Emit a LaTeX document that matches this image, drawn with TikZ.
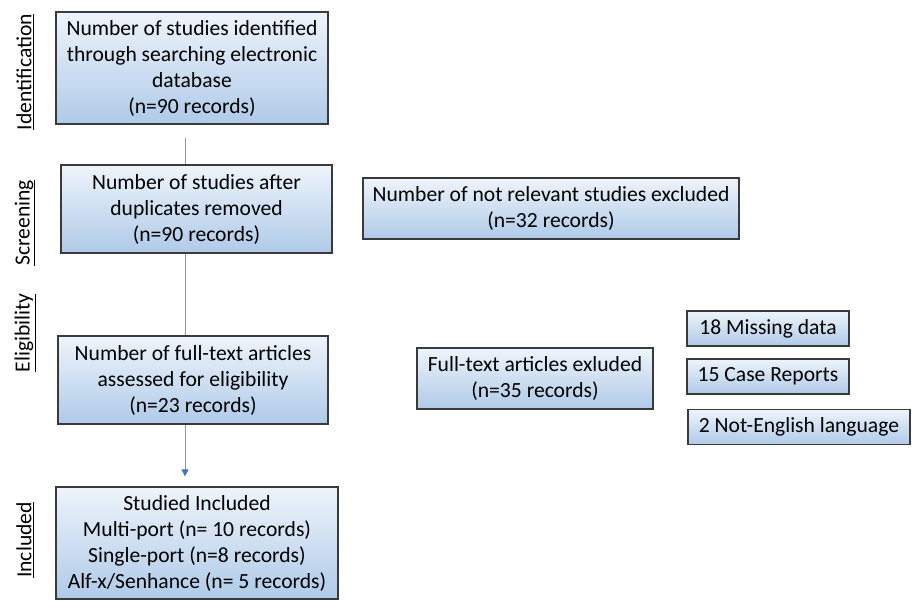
\documentclass[tikz,border=0pt]{standalone}
\usepackage{fontspec}
\setmainfont{Carlito}
\usetikzlibrary{arrows.meta}
\usetikzlibrary{calc}
\definecolor{boxtop}{HTML}{EEF4FB}
\definecolor{boxbot}{HTML}{AFCAE8}
\definecolor{boxline}{HTML}{3A3A3A}
\definecolor{flowline}{HTML}{8097BC}
\definecolor{tipblue}{HTML}{4472C4}
\tikzstyle{stage}=[draw=boxline,line width=1.3pt,top color=boxtop,bottom color=boxbot,inner sep=2pt,align=center,font=\fontsize{21.6}{26}\selectfont]
\tikzstyle{phase}=[rotate=90,font=\fontsize{21.6}{26}\selectfont]
\tikzstyle{flow} = [draw=flowline,line width=0.9pt]

\begin{document}
\begin{tikzpicture}[x=1pt,y=-1pt]

  \useasboundingbox (0,0) rectangle (912,600);
  \coordinate (spine) at (185,0);

  % main column
  \node[stage,minimum width=272pt,minimum height=112pt] (ident) at (192,68) {Number of studies identified\\through searching electronic\\database\\(n=90 records)};
  \node[stage,minimum width=271pt,minimum height=88pt] (screen) at (196.5,209) {Number of studies after\\duplicates removed\\(n=90 records)};
  \node[stage,minimum width=270pt,minimum height=88pt] (elig) at (193,380) {Number of full-text articles\\assessed for eligibility\\(n=23 records)};
  \node[stage,minimum width=282pt,minimum height=112pt] (incl) at (197,543) {Studied Included\\Multi-port (n= 10 records)\\Single-port (n=8 records)\\Alf-x/Senhance (n= 5 records)};

  % phase labels
  \foreach \y/\name/\label in {72/pident/Identification, 223/pscreen/Screening, 333/pelig/Eligibility, 540/pincl/Included}
          \node[phase] (\name) at (25,\y) {\underline{\label}};

  % excluded
  \node[stage,minimum width=376pt,minimum height=61pt] (notrel) at (551,208.5) {Number of not relevant studies excluded\\(n=32 records)};
  \node[stage,minimum width=236pt,minimum height=61pt] (ftex) at (535,378.5) {Full-text articles exluded\\(n=35 records)};

  \foreach \x/\y/\w/\name/\label in {768/328.5/162/missing/18 Missing data, 768/376.5/162/casrep/15 Case Reports, 799/427/222/noteng/2 Not-English language}
          \node[stage,minimum width=\w pt,minimum height=35pt] (\name) at (\x,\y) {\label};

  \draw[flow,shorten <=13pt] (ident.south -| spine) -- (screen.north -| spine);
  \draw[flow] (screen.south -| spine) -- (elig.north -| spine);
  \draw[flow,-{Triangle[length=7pt,width=7pt,color=tipblue]},shorten >=10pt] (elig.south -| spine) -- (incl.north -| spine);

\end{tikzpicture}
\end{document}
